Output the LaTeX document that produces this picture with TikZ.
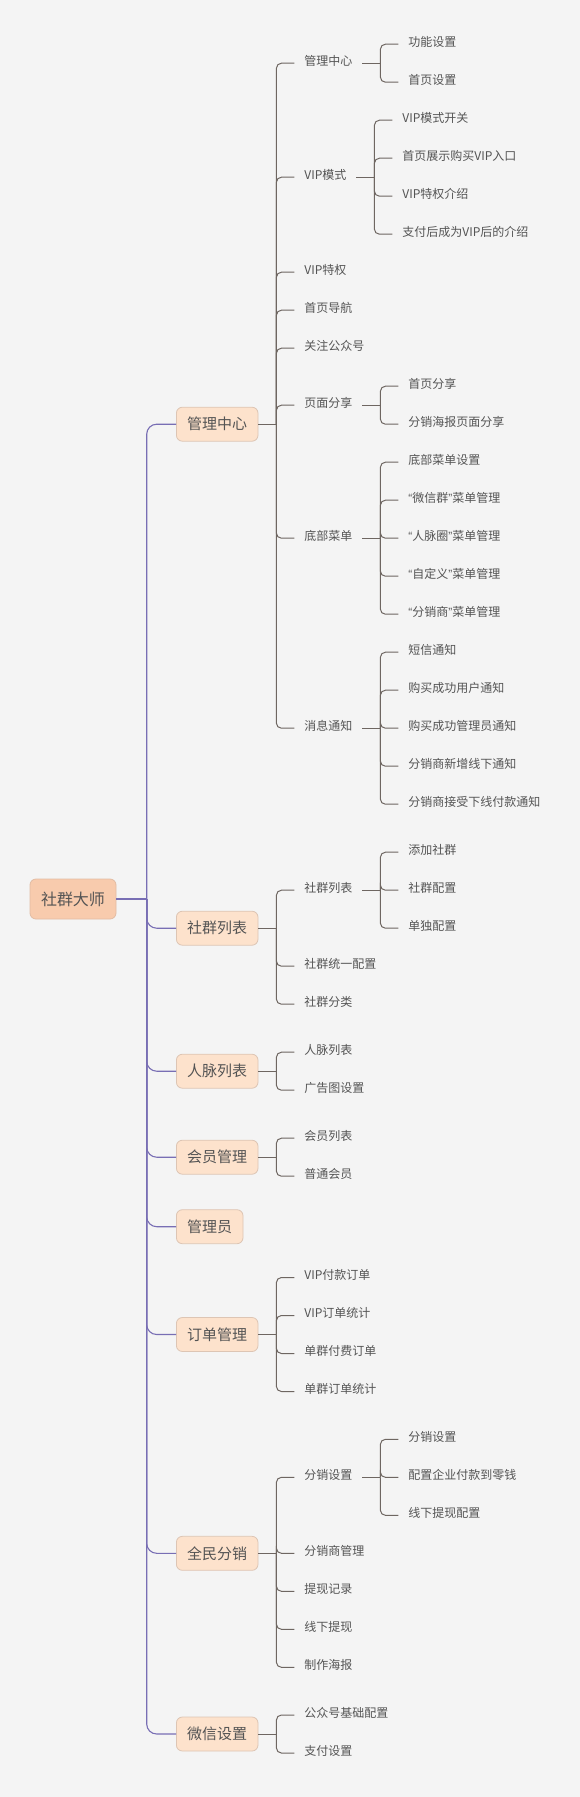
\documentclass[tikz,border=0pt]{standalone}
\usepackage{fontspec}
\setmainfont{Noto Sans CJK SC}
\newfontfamily\qf{Liberation Sans}
\usetikzlibrary{calc}
\definecolor{bg}{HTML}{F4F4F4}
\definecolor{rootfill}{HTML}{F8CBAD}
\definecolor{rootdraw}{HTML}{E2BCA4}
\definecolor{topfill}{HTML}{FDE2CC}
\definecolor{topdraw}{HTML}{DDC5B4}
\definecolor{txt}{HTML}{545454}
\definecolor{mainc}{HTML}{786EB4}
\definecolor{subc}{HTML}{6E6661}
\newcommand\mmlq{{\qf “}}
\newcommand\mmrq{{\qf ”}}
\newcommand\mmkids[2]{%
  \coordinate (#1B) at ([xshift=18pt]#1.east);
  \draw[subline] (#1.east) -- (#1B);
  \foreach \cc in {#2} {\draw[subline] (#1B) |- (\cc.west);}%
}
\tikzset{
  rootbox/.style={draw=rootdraw, fill=rootfill, line width=0.8pt, rounded corners=6pt,
    minimum height=40pt, inner xsep=11pt, text=txt, font=\fontsize{16}{18}\selectfont},
  topbox/.style={draw=topdraw, fill=topfill, line width=0.8pt, rounded corners=6pt,
    minimum height=34pt, inner xsep=10.8pt, text=txt, font=\fontsize{15}{17}\selectfont, anchor=west},
  leaf/.style={inner xsep=9.8pt, inner ysep=0pt, text=txt, font=\fontsize{12}{14}\selectfont,
    text height=10.5pt, text depth=6.5pt, anchor=west},
  mainline/.style={draw=mainc, line width=1.1pt, rounded corners=10pt},
  subline/.style={draw=subc, line width=1pt, rounded corners=5pt},
}
\begin{document}
\begin{tikzpicture}[x=1pt, y=-1pt]
\fill[bg] (0,0) rectangle (580,1797);
\useasboundingbox (0,0) rectangle (580,1797);

% root
\node[rootbox] (root) at (73,899) {社群大师};
\coordinate (T) at (146.7,899);

% level 1
\node[topbox] (m1) at (176,424.2) {管理中心};
\node[topbox] (m2) at (176,928.2) {社群列表};
\node[topbox] (m3) at (176,1071.2) {人脉列表};
\node[topbox] (m4) at (176,1157.2) {会员管理};
\node[topbox] (m5) at (176,1226.7) {管理员};
\node[topbox] (m6) at (176,1334.5) {订单管理};
\node[topbox] (m7) at (176,1553.3) {全民分销};
\node[topbox] (m8) at (176,1734) {微信设置};

\draw[mainline, line width=2pt] (root.east) -- (T);
\foreach \mm in {m1,m2,m3,m4,m5,m6,m7,m8} {\draw[mainline] (T) |- (\mm.west);}

% ---- 管理中心
\coordinate (m1X) at ([xshift=18pt]m1.east);
\node[leaf, xshift=18pt] (n1) at (m1X |- 0,63.2) {管理中心};
\node[leaf, xshift=18pt] (n2) at (m1X |- 0,177.2) {VIP模式};
\node[leaf, xshift=18pt] (n3) at (m1X |- 0,272.2) {VIP特权};
\node[leaf, xshift=18pt] (n4) at (m1X |- 0,310.2) {首页导航};
\node[leaf, xshift=18pt] (n5) at (m1X |- 0,348.2) {关注公众号};
\node[leaf, xshift=18pt] (n6) at (m1X |- 0,405.2) {页面分享};
\node[leaf, xshift=18pt] (n7) at (m1X |- 0,538.2) {底部菜单};
\node[leaf, xshift=18pt] (n8) at (m1X |- 0,728.2) {消息通知};
\mmkids{m1}{n1,n2,n3,n4,n5,n6,n7,n8}

\coordinate (n1X) at ([xshift=18pt]n1.east);
\node[leaf, xshift=18pt] (n1a) at (n1X |- 0,44.2) {功能设置};
\node[leaf, xshift=18pt] (n1b) at (n1X |- 0,82.2) {首页设置};
\mmkids{n1}{n1a,n1b}

\coordinate (n2X) at ([xshift=18pt]n2.east);
\node[leaf, xshift=18pt] (n2a) at (n2X |- 0,120.2) {VIP模式开关};
\node[leaf, xshift=18pt] (n2b) at (n2X |- 0,158.2) {首页展示购买VIP入口};
\node[leaf, xshift=18pt] (n2c) at (n2X |- 0,196.2) {VIP特权介绍};
\node[leaf, xshift=18pt] (n2d) at (n2X |- 0,234.2) {支付后成为VIP后的介绍};
\mmkids{n2}{n2a,n2b,n2c,n2d}

\coordinate (n6X) at ([xshift=18pt]n6.east);
\node[leaf, xshift=18pt] (n6a) at (n6X |- 0,386.2) {首页分享};
\node[leaf, xshift=18pt] (n6b) at (n6X |- 0,424.2) {分销海报页面分享};
\mmkids{n6}{n6a,n6b}

\coordinate (n7X) at ([xshift=18pt]n7.east);
\node[leaf, xshift=18pt] (n7a) at (n7X |- 0,462.2) {底部菜单设置};
\node[leaf, xshift=18pt] (n7b) at (n7X |- 0,500.2) {\mmlq 微信群\mmrq 菜单管理};
\node[leaf, xshift=18pt] (n7c) at (n7X |- 0,538.2) {\mmlq 人脉圈\mmrq 菜单管理};
\node[leaf, xshift=18pt] (n7d) at (n7X |- 0,576.2) {\mmlq 自定义\mmrq 菜单管理};
\node[leaf, xshift=18pt] (n7e) at (n7X |- 0,614.2) {\mmlq 分销商\mmrq 菜单管理};
\mmkids{n7}{n7a,n7b,n7c,n7d,n7e}

\coordinate (n8X) at ([xshift=18pt]n8.east);
\node[leaf, xshift=18pt] (n8a) at (n8X |- 0,652.2) {短信通知};
\node[leaf, xshift=18pt] (n8b) at (n8X |- 0,690.2) {购买成功用户通知};
\node[leaf, xshift=18pt] (n8c) at (n8X |- 0,728.2) {购买成功管理员通知};
\node[leaf, xshift=18pt] (n8d) at (n8X |- 0,766.2) {分销商新增线下通知};
\node[leaf, xshift=18pt] (n8e) at (n8X |- 0,804.2) {分销商接受下线付款通知};
\mmkids{n8}{n8a,n8b,n8c,n8d,n8e}

% ---- 社群列表
\coordinate (m2X) at ([xshift=18pt]m2.east);
\node[leaf, xshift=18pt] (p1) at (m2X |- 0,890.2) {社群列表};
\node[leaf, xshift=18pt] (p2) at (m2X |- 0,966.2) {社群统一配置};
\node[leaf, xshift=18pt] (p3) at (m2X |- 0,1004.2) {社群分类};
\mmkids{m2}{p1,p2,p3}

\coordinate (p1X) at ([xshift=18pt]p1.east);
\node[leaf, xshift=18pt] (p1a) at (p1X |- 0,852.2) {添加社群};
\node[leaf, xshift=18pt] (p1b) at (p1X |- 0,890.2) {社群配置};
\node[leaf, xshift=18pt] (p1c) at (p1X |- 0,928.2) {单独配置};
\mmkids{p1}{p1a,p1b,p1c}

% ---- 人脉列表
\coordinate (m3X) at ([xshift=18pt]m3.east);
\node[leaf, xshift=18pt] (q1) at (m3X |- 0,1052.2) {人脉列表};
\node[leaf, xshift=18pt] (q2) at (m3X |- 0,1090.2) {广告图设置};
\mmkids{m3}{q1,q2}

% ---- 会员管理
\coordinate (m4X) at ([xshift=18pt]m4.east);
\node[leaf, xshift=18pt] (r1) at (m4X |- 0,1138.2) {会员列表};
\node[leaf, xshift=18pt] (r2) at (m4X |- 0,1176.2) {普通会员};
\mmkids{m4}{r1,r2}

% ---- 订单管理
\coordinate (m6X) at ([xshift=18pt]m6.east);
\node[leaf, xshift=18pt] (o1) at (m6X |- 0,1277.5) {VIP付款订单};
\node[leaf, xshift=18pt] (o2) at (m6X |- 0,1315.5) {VIP订单统计};
\node[leaf, xshift=18pt] (o3) at (m6X |- 0,1353.5) {单群付费订单};
\node[leaf, xshift=18pt] (o4) at (m6X |- 0,1391.5) {单群订单统计};
\mmkids{m6}{o1,o2,o3,o4}

% ---- 全民分销
\coordinate (m7X) at ([xshift=18pt]m7.east);
\node[leaf, xshift=18pt] (s1) at (m7X |- 0,1477.3) {分销设置};
\node[leaf, xshift=18pt] (s2) at (m7X |- 0,1553.3) {分销商管理};
\node[leaf, xshift=18pt] (s3) at (m7X |- 0,1591.3) {提现记录};
\node[leaf, xshift=18pt] (s4) at (m7X |- 0,1629.3) {线下提现};
\node[leaf, xshift=18pt] (s5) at (m7X |- 0,1667.3) {制作海报};
\mmkids{m7}{s1,s2,s3,s4,s5}

\coordinate (s1X) at ([xshift=18pt]s1.east);
\node[leaf, xshift=18pt] (s1a) at (s1X |- 0,1439.3) {分销设置};
\node[leaf, xshift=18pt] (s1b) at (s1X |- 0,1477.3) {配置企业付款到零钱};
\node[leaf, xshift=18pt] (s1c) at (s1X |- 0,1515.3) {线下提现配置};
\mmkids{s1}{s1a,s1b,s1c}

% ---- 微信设置
\coordinate (m8X) at ([xshift=18pt]m8.east);
\node[leaf, xshift=18pt] (w1) at (m8X |- 0,1715) {公众号基础配置};
\node[leaf, xshift=18pt] (w2) at (m8X |- 0,1753) {支付设置};
\mmkids{m8}{w1,w2}
\end{tikzpicture}
\end{document}
